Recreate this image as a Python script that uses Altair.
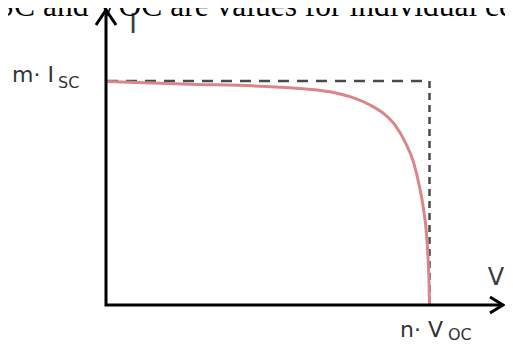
import altair as alt
import pandas as pd

# I-V curve (V in units of n*Voc, I in units of m*Isc)
curve_v = [0.003, 0.238, 0.578, 0.692, 0.754, 0.816, 0.857, 0.893, 0.924, 0.950, 0.968, 0.981, 0.991, 0.996, 0.999, 1.0]
curve_i = [0.998, 0.987, 0.969, 0.952, 0.930, 0.893, 0.856, 0.804, 0.729, 0.640, 0.536, 0.433, 0.313, 0.193, 0.076, 0.0]

# axis lines with arrows (corner at origin)
axis_v = [0.0, 0.0, 1.227]
axis_i = [1.317, 0.0, 0.0]
arrow_id = ["y", "y", "y", "x", "x", "x"]
arrow_v = [-0.031, 0.0, 0.031, 1.187, 1.227, 1.187]
arrow_i = [1.25, 1.317, 1.25, 0.036, 0.0, -0.036]

# dashed guides
isc_level = 1.0
voc_level = 1.0

# labels
label_text = ["I", "V", "m\u00b7 I", "SC", "n\u00b7 V", "OC"]
label_v = [0.0835, 1.2056, -0.2906, -0.148, 0.9088, 1.0569]
label_i = [1.214, 0.0893, 0.9955, 0.9688, -0.1429, -0.1563]
label_size = [26, 24, 22, 16, 22, 16]
label_kind = ["axis", "axis", "main", "sub", "main", "sub"]

caption = "ISC and VOC are values for individual cells"

W, H = 497, 332
PX_V, PX_I = 323.5, 224.0
x0 = -98 / PX_V
x1 = x0 + W / PX_V
y1 = 297 / PX_I
y0 = (297 - H) / PX_I

xs = alt.Scale(domain=[x0, x1], nice=False, zero=False)
ys = alt.Scale(domain=[y0, y1], nice=False, zero=False)


def X(f="v"):
    return alt.X(f"{f}:Q", scale=xs, axis=None)


def Y(f="i"):
    return alt.Y(f"{f}:Q", scale=ys, axis=None)


curve_df = pd.DataFrame({"v": curve_v, "i": curve_i, "o": range(len(curve_v))})
axis_df = pd.DataFrame({"v": axis_v, "i": axis_i, "o": range(len(axis_v))})
arrow_df = pd.DataFrame({"v": arrow_v, "i": arrow_i, "g": arrow_id, "o": range(len(arrow_v))})
hdash_df = pd.DataFrame({"v": [0.003], "v2": [voc_level], "i": [isc_level]})
vdash_df = pd.DataFrame({"v": [voc_level], "i": [isc_level], "i2": [0.0]})
lab_df = pd.DataFrame({"t": label_text, "v": label_v, "i": label_i, "s": label_size, "k": label_kind})
cap_df = pd.DataFrame({"t": [caption], "v": [(-13.9 - 106) / PX_V], "i": [(305 - 15.5) / PX_I]})

hdash = alt.Chart(hdash_df).mark_rule(color="#4a4a4a", strokeWidth=2.5, strokeDash=[11, 8]).encode(
    x=X(), x2="v2:Q", y=Y())
vdash = alt.Chart(vdash_df).mark_rule(color="#4a4a4a", strokeWidth=2.5, strokeDash=[7, 5]).encode(
    x=X(), y=Y(), y2="i2:Q")
curve = alt.Chart(curve_df).mark_line(color="#d9868b", strokeWidth=3, interpolate="monotone").encode(
    x=X(), y=Y(), order="o:Q")
axes = alt.Chart(axis_df).mark_line(color="#000000", strokeWidth=3, strokeJoin="miter").encode(
    x=X(), y=Y(), order="o:Q")
arrows = alt.Chart(arrow_df).mark_line(color="#000000", strokeWidth=3, strokeJoin="miter").encode(
    x=X(), y=Y(), detail="g:N", order="o:Q")

axis_labels = alt.Chart(lab_df[lab_df.k == "axis"]).mark_text(
    font="DejaVu Sans", color="#3a3a3a", align="center", baseline="alphabetic").encode(
    x=X(), y=Y(), text="t:N", size=alt.Size("s:Q", scale=None, legend=None))
main_labels = alt.Chart(lab_df[lab_df.k != "axis"]).mark_text(
    font="DejaVu Sans", color="#333333", align="left", baseline="alphabetic").encode(
    x=X(), y=Y(), text="t:N", size=alt.Size("s:Q", scale=None, legend=None))
cap = alt.Chart(cap_df).mark_text(
    font="Liberation Serif", fontSize=31.5, color="#000000", align="left", baseline="alphabetic").encode(
    x=X(), y=Y(), text="t:N")

chart = alt.layer(hdash, vdash, curve, axes, arrows, axis_labels, main_labels, cap).properties(
    width=W, height=H, padding=0, autosize=alt.AutoSizeParams(type="none"), background="white"
).configure_view(stroke=None)

chart.save("out.html", embed_options={"renderer": "svg", "actions": False})
